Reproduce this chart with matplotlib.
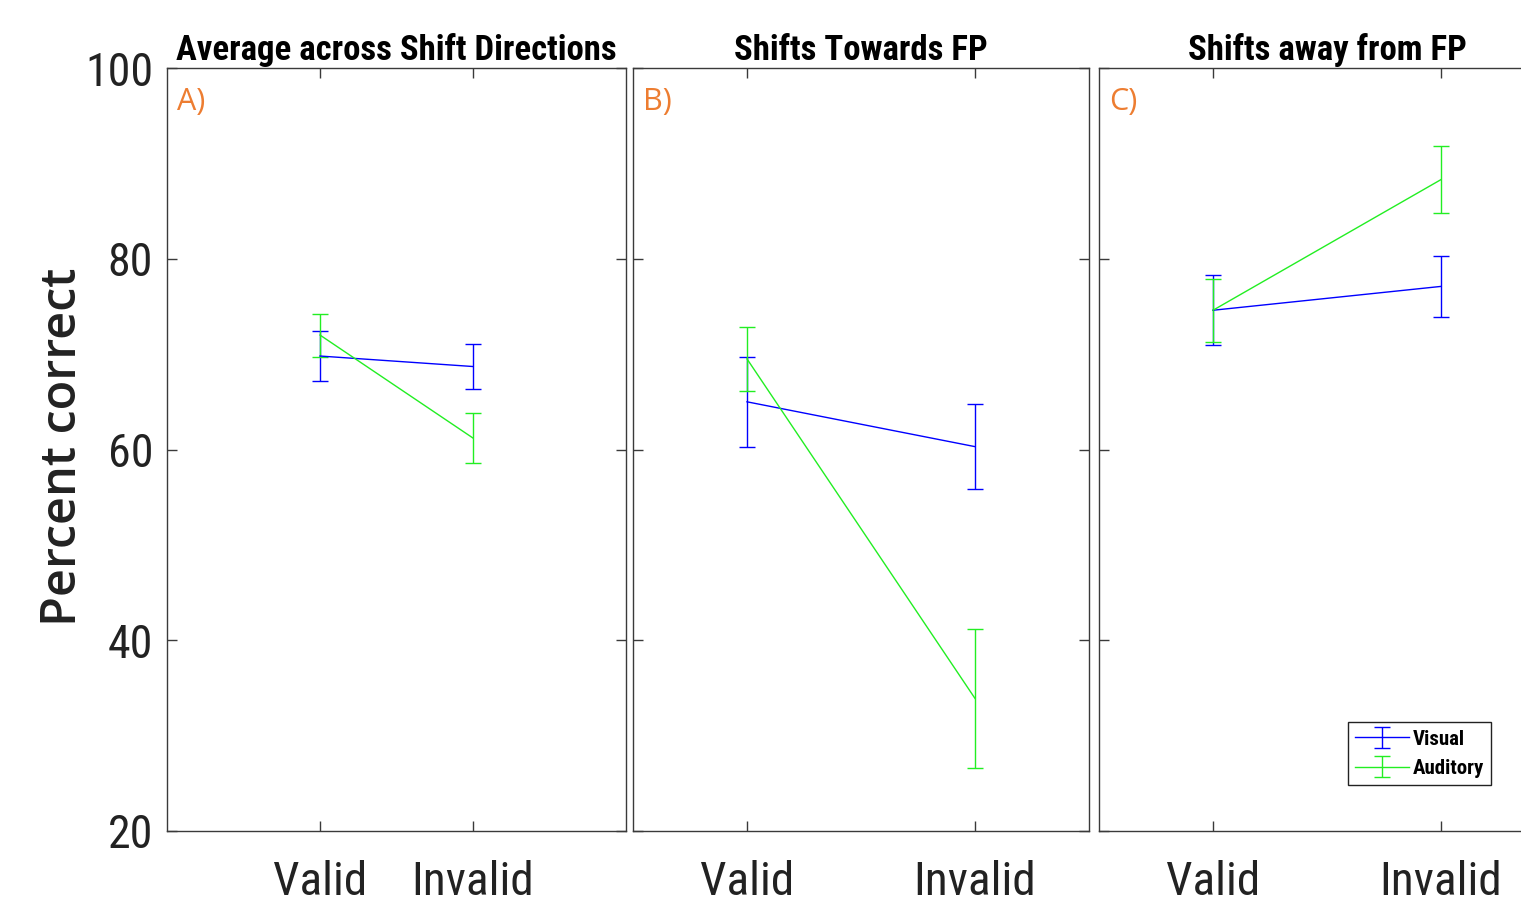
import matplotlib
matplotlib.use("Agg")
import matplotlib.pyplot as plt
from matplotlib import font_manager as fm
import numpy as np

# condition labels and x positions
conditions = ['Valid', 'Invalid']
xpos = np.array([1, 2])

titles = ['Average across Shift Directions', 'Shifts Towards FP', 'Shifts away from FP']
panel_tags = ['A)', 'B)', 'C)']

# percent correct (mean) and error bar half-widths per panel
visual_mean = [[69.8, 68.7], [65.0, 60.3], [74.6, 77.1]]
visual_err = [[2.6, 2.35], [4.7, 4.45], [3.65, 3.2]]
auditory_mean = [[72.0, 61.2], [69.5, 33.9], [74.6, 88.3]]
auditory_err = [[2.25, 2.65], [3.35, 7.3], [3.3, 3.55]]

yticks = [20, 40, 60, 80, 100]

# pick a condensed sans if one is around, else plain Arial-metric sans
fonts = fm.fontManager.ttflist
names = {f.name for f in fonts}
narrow = None
for cand in ['Liberation Sans Narrow', 'Roboto Condensed', 'Open Sans Condensed',
             'Noto Sans Condensed', 'DejaVu Sans Condensed', 'Arial Narrow']:
    if cand in names:
        narrow = dict(family=[cand, 'DejaVu Sans'])
        break
if narrow is None:
    cond = [f for f in fonts if f.stretch in ('condensed', 'semi-condensed', 'extra-condensed')]
    if cond:
        narrow = dict(family=[cond[0].name, 'DejaVu Sans'], stretch=cond[0].stretch)
squeeze = 1.0
if narrow is None:
    narrow = dict(family=['Liberation Sans', 'DejaVu Sans'])
    squeeze = 0.82

axcol = '#3a3a3a'
txtcol = '#222222'

fig = plt.figure(figsize=(15.21, 9.09), dpi=100)
W, H = 1521.0, 909.0
bottom = (H - 831) / H
height = 763 / H
lefts = [167, 633, 1099]
widths = [459, 456, 456]
xlims = [(0, 3), (0.5, 2.5), (0.5, 2.5)]

for i in range(3):
    ax = fig.add_axes([lefts[i] / W, bottom, widths[i] / W, height])
    ax.errorbar(xpos, visual_mean[i], yerr=visual_err[i], color='#0000ff',
                lw=1, elinewidth=1, capsize=6, capthick=1, label='Visual')
    ax.errorbar(xpos, auditory_mean[i], yerr=auditory_err[i], color='#22ee22',
                lw=1, elinewidth=1, capsize=6, capthick=1, label='Auditory')
    ax.set_xlim(*xlims[i])
    ax.set_ylim(20, 100)
    ax.set_yticks(yticks)
    ax.set_xticks(xpos)
    ax.set_xticklabels(conditions, fontsize=34 * squeeze, color=txtcol, **narrow)
    ax.tick_params(direction='in', length=7, width=1, color=axcol,
                   top=True, right=True, pad=21)
    ax.tick_params(axis='y', pad=10)
    if i == 0:
        ax.set_yticklabels([str(t) for t in yticks], fontsize=33 * squeeze,
                           color=txtcol, **narrow)
    else:
        ax.set_yticklabels([])
    for s in ax.spines.values():
        s.set_color(axcol)
        s.set_linewidth(1)
    ax.set_title(titles[i], fontweight='bold', fontsize=25 * squeeze, pad=6, **narrow)
    ax.text(0.022, 0.975, panel_tags[i], transform=ax.transAxes, color='#ed7d31',
            fontsize=22, family=['Open Sans', 'DejaVu Sans'], va='top', ha='left')
    if i == 2:
        leg = ax.legend(loc='lower left', bbox_to_anchor=(0.546, 0.06),
                        prop=dict(weight='bold', size=15 * squeeze, **narrow),
                        fancybox=False, edgecolor=txtcol, framealpha=1,
                        handlelength=2.6, handletextpad=0.15, borderpad=0.35,
                        labelspacing=0.5, borderaxespad=0)
        leg.get_frame().set_linewidth(1)

fig.text(64 / W, 1 - 447 / H, 'Percent correct', rotation=90, ha='center', va='center',
         fontsize=35, color=txtcol, fontweight='semibold',
         family=['Open Sans', 'Liberation Sans', 'DejaVu Sans'])

fig.savefig('out.png', dpi=100)
